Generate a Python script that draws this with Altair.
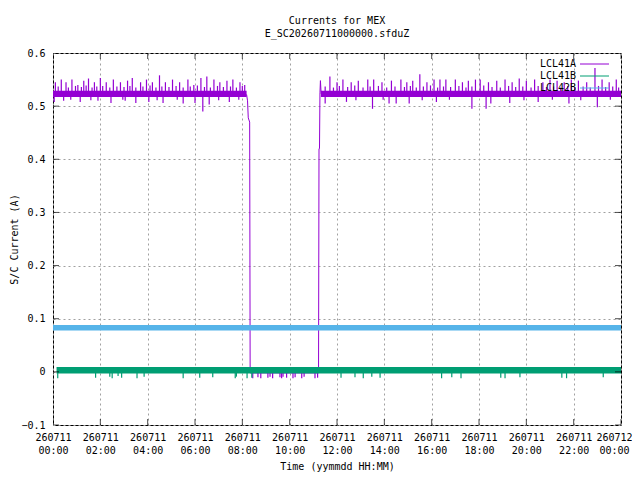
import altair as alt
import pandas as pd

FONT = "DejaVu Sans Mono"
SERIES = ["LCL41A", "LCL41B", "LCL42B"]
COLORS = ["#9400d3", "#009e73", "#56b4e9"]

# axis ticks (hours since 260711 00:00, current in A)
x_ticks = [0, 2, 4, 6, 8, 10, 12, 14, 16, 18, 20, 22, 24]
y_ticks = [-0.1, 0.0, 0.1, 0.2, 0.3, 0.4, 0.5, 0.6]

# quasi-steady noise band of each trace
band_series = ["LCL41A", "LCL41A", "LCL41B", "LCL42B"]
band_start = [0.0, 11.32, 0.15, 0.0]
band_end = [8.18, 24.0, 24.0, 24.0]
band_low = [0.517, 0.517, -0.003, 0.078]
band_high = [0.529, 0.529, 0.009, 0.088]
band_mid = [0.523, 0.523, 0.003, 0.083]

# LCL41A switch-off / switch-on transition
a_line_t = [8.18, 8.22, 8.25, 8.31, 8.33, 11.22, 11.24, 11.26, 11.28, 11.30, 11.33]
a_line_v = [0.522, 0.510, 0.478, 0.470, -0.002, -0.002, 0.420, 0.420, 0.525, 0.548, 0.523]

# LCL41A spikes above / below the band
a_up_t = [0.10, 0.35, 0.55, 0.80, 1.05, 1.30, 1.50, 1.75, 2.00, 2.25, 2.55, 2.85, 3.15, 3.35,
          3.70, 3.95, 4.20, 4.50, 4.75, 5.05, 5.35, 5.70, 5.95, 6.25, 6.50, 6.80, 7.05, 7.35,
          7.60, 7.90, 8.10,
          11.70, 12.00, 12.25, 12.60, 12.90, 13.30, 13.55, 13.90, 14.30, 14.70, 14.95, 15.20,
          15.50, 15.80, 16.10, 16.35, 16.60, 17.00, 17.30, 17.55, 17.85, 18.05, 18.40, 18.75,
          19.10, 19.40, 19.70, 20.00, 20.35, 20.70, 21.00, 21.30, 21.60, 21.90, 22.20, 22.55,
          22.90, 23.20, 23.50, 23.80]
a_up_v = [0.545, 0.550, 0.545, 0.550, 0.540, 0.548, 0.552, 0.545, 0.553, 0.545, 0.550, 0.545,
          0.548, 0.553, 0.545, 0.550, 0.545, 0.558, 0.545, 0.550, 0.545, 0.550, 0.540, 0.553,
          0.556, 0.550, 0.545, 0.548, 0.550, 0.545, 0.540,
          0.556, 0.545, 0.550, 0.545, 0.548, 0.550, 0.550, 0.545, 0.548, 0.550, 0.545, 0.548,
          0.560, 0.545, 0.550, 0.550, 0.550, 0.550, 0.545, 0.548, 0.550, 0.550, 0.545, 0.548,
          0.550, 0.545, 0.552, 0.548, 0.550, 0.545, 0.550, 0.548, 0.545, 0.550, 0.548, 0.545,
          0.572, 0.550, 0.545, 0.550]
# smaller ripples just above the band
a_sm_t = [0.22, 0.65, 0.95, 1.20, 1.40, 1.65, 1.85, 2.10, 2.40, 2.70, 3.00, 3.25, 3.50, 3.80,
          4.10, 4.35, 4.60, 4.90, 5.20, 5.50, 5.80, 6.10, 6.40, 6.65, 6.95, 7.20, 7.50, 7.75,
          8.00,
          11.50, 11.85, 12.10, 12.45, 12.75, 13.10, 13.40, 13.75, 14.10, 14.45, 14.85, 15.10,
          15.35, 15.65, 15.95, 16.25, 16.50, 16.80, 17.15, 17.45, 17.70, 18.20, 18.55, 18.90,
          19.25, 19.55, 19.85, 20.20, 20.50, 20.85, 21.15, 21.45, 21.75, 22.05, 22.40, 22.70,
          23.05, 23.35, 23.65, 23.90]
a_sm_v = [0.537, 0.535, 0.538, 0.536, 0.539, 0.535, 0.537, 0.538, 0.535, 0.537, 0.536, 0.538,
          0.535, 0.537, 0.539, 0.535, 0.537, 0.536, 0.538, 0.535, 0.537, 0.539, 0.536, 0.535,
          0.538, 0.536, 0.537, 0.535, 0.538,
          0.537, 0.535, 0.538, 0.536, 0.539, 0.535, 0.537, 0.538, 0.535, 0.537, 0.536, 0.538,
          0.535, 0.537, 0.539, 0.535, 0.537, 0.536, 0.538, 0.535, 0.537, 0.539, 0.536, 0.535,
          0.538, 0.536, 0.537, 0.535, 0.538, 0.536, 0.537, 0.535, 0.538, 0.536, 0.537, 0.535,
          0.538, 0.536, 0.537, 0.535]
a_dn_t = [0.05, 0.45, 1.15, 1.90, 2.45, 3.05, 3.50, 4.05, 4.65, 5.50, 6.00, 6.33, 6.60, 7.45,
          0.75, 1.60, 2.95, 4.40, 5.25, 7.00, 7.85,
          11.50, 12.40, 13.50, 14.20, 14.50, 15.05, 16.20, 17.70, 18.30, 18.50, 19.30, 20.50,
          21.80, 23.00, 12.80, 13.95, 15.60, 16.75, 19.90, 21.10, 22.30, 23.55]
a_dn_v = [0.508, 0.510, 0.508, 0.510, 0.506, 0.510, 0.506, 0.508, 0.506, 0.505, 0.506, 0.490,
          0.503, 0.508, 0.512, 0.511, 0.512, 0.511, 0.512, 0.511, 0.512,
          0.505, 0.508, 0.495, 0.505, 0.505, 0.505, 0.508, 0.495, 0.495, 0.505, 0.506, 0.508,
          0.505, 0.498, 0.511, 0.512, 0.511, 0.512, 0.511, 0.512, 0.511, 0.512]
# LCL41A dips while switched off
a_gap_t = [8.44, 8.66, 8.78, 9.08, 9.17, 9.28, 9.59, 9.66, 9.72, 9.87, 10.14, 10.23, 10.51,
           10.61, 11.07, 11.18]
a_gap_v = [-0.012, -0.010, -0.012, -0.011, -0.009, -0.012, -0.010, -0.012, -0.009, -0.011,
           -0.012, -0.010, -0.012, -0.009, -0.012, -0.011]

# LCL41B dips below its band
b_dn_t = [0.20, 1.80, 2.40, 2.50, 2.75, 2.90, 3.55, 3.85, 5.50, 6.20, 6.75, 7.70, 7.75, 8.20,
          8.40, 12.17, 12.76, 13.11, 13.47, 13.82, 16.42, 16.85, 17.24, 18.92, 19.10, 19.73,
          21.50, 21.70, 23.25]
b_dn_v = [-0.012, -0.011, -0.009, -0.012, -0.008, -0.011, -0.012, -0.009, -0.012, -0.011,
          -0.010, -0.012, -0.009, -0.012, -0.011, -0.011, -0.010, -0.012, -0.009, -0.011,
          -0.012, -0.010, -0.012, -0.011, -0.012, -0.010, -0.011, -0.012, -0.010]

X_SCALE = alt.Scale(domain=[0, 24], nice=False, zero=False)
Y_SCALE = alt.Scale(domain=[-0.1, 0.6], nice=False, zero=False)
X_AXIS = alt.Axis(
    values=x_ticks,
    labelExpr="[datum.value < 24 ? '260711' : '260712', "
              "(datum.value % 24 < 10 ? '0' : '') + (datum.value % 24) + ':00']",
    title="Time (yymmdd HH:MM)", labelLineHeight=13, labelPadding=7,
    labelBaseline="top", titleX=284, titleY=41, titleBaseline="middle",
    labelOffset={"condition": {"test": "datum.value == 24", "value": -7}, "value": 0},
)
Y_AXIS = alt.Axis(
    values=y_ticks,
    labelExpr="datum.value == 0 ? '0' : format(datum.value, '.1f')",
    title="S/C Current (A)", labelPadding=8,
    titleX=-39, titleY=186, titleAngle=270, titleBaseline="middle", titleAlign="center",
)


def X(field):
    return alt.X(field, type="quantitative", scale=X_SCALE, axis=X_AXIS)


def Y(field):
    return alt.Y(field, type="quantitative", scale=Y_SCALE, axis=Y_AXIS)


band_df = pd.DataFrame({"series": band_series, "t0": band_start, "t1": band_end,
                        "lo": band_low, "hi": band_high})
mid = dict(zip(band_series, band_mid))

spike_rows = []
for t, v in zip(a_up_t + a_sm_t + a_dn_t, a_up_v + a_sm_v + a_dn_v):
    spike_rows.append(("LCL41A", t, mid["LCL41A"], v))
for t, v in zip(a_gap_t, a_gap_v):
    spike_rows.append(("LCL41A", t, -0.002, v))
for t, v in zip(b_dn_t, b_dn_v):
    spike_rows.append(("LCL41B", t, mid["LCL41B"], v))
spike_df = pd.DataFrame(spike_rows, columns=["series", "t", "base", "v"])
line_df = pd.DataFrame({"t": a_line_t, "v": a_line_v})

layers = []
for s, c in zip(SERIES, COLORS):
    bd = band_df[band_df.series == s]
    layers.append(alt.Chart(bd).mark_rect(color=c, strokeWidth=0).encode(
        x=X("t0"), x2="t1", y=Y("lo"), y2="hi"))
    if s == "LCL41A":
        layers.append(alt.Chart(line_df).mark_line(color=c, strokeWidth=1).encode(
            x=X("t"), y=Y("v")))
    sd = spike_df[spike_df.series == s]
    if len(sd):
        layers.append(alt.Chart(sd).mark_rule(color=c, strokeWidth=1.2).encode(
            x=X("t"), y=Y("base"), y2="v"))

# inward border ticks (gnuplot style)
xt = pd.DataFrame({"t": x_ticks})
yt = pd.DataFrame({"v": y_ticks})
for yy in [0, 372]:
    layers.append(alt.Chart(xt).mark_tick(color="black", size=12, thickness=1, clip=True).encode(
        x=X("t"), y=alt.value(yy)))
for xx in [0, 568]:
    layers.append(alt.Chart(yt).mark_tick(color="black", size=12, thickness=1, clip=True).encode(
        y=Y("v"), x=alt.value(xx)))

# key (top right, inside the plot)
one = pd.DataFrame({"k": [0]})
for i, (s, c) in enumerate(zip(SERIES, COLORS)):
    yy = 11 + 12 * i
    layers.append(alt.Chart(one).mark_text(font=FONT, fontSize=10, align="right",
                                           baseline="middle", color="black").encode(
        x=alt.value(523), y=alt.value(yy), text=alt.value(s)))
    layers.append(alt.Chart(one).mark_rule(color=c, strokeWidth=1).encode(
        x=alt.value(527), x2=alt.value(556), y=alt.value(yy)))

chart = alt.layer(*layers).properties(
    width=568, height=372,
    title=alt.TitleParams(["Currents for MEX", "E_SC20260711000000.sfduZ"],
                          font=FONT, fontSize=10, fontWeight="normal", lineHeight=13,
                          anchor="middle", frame="group", offset=9, color="black"),
    padding={"left": 45, "top": 45, "right": 11, "bottom": 47},
    autosize="none",
).configure_view(
    stroke="black", strokeWidth=1
).configure_axis(
    grid=True, gridColor="#a0a0a0", gridDash=[2, 3], gridWidth=1,
    domain=False, ticks=False, labelFont=FONT, labelFontSize=10, labelColor="black",
    titleFont=FONT, titleFontSize=10, titleFontWeight="normal", titleColor="black",
    labelFlush=False, labelOverlap=False, labelBound=False,
)

chart.save("out.html", embed_options={"renderer": "svg", "actions": False})
